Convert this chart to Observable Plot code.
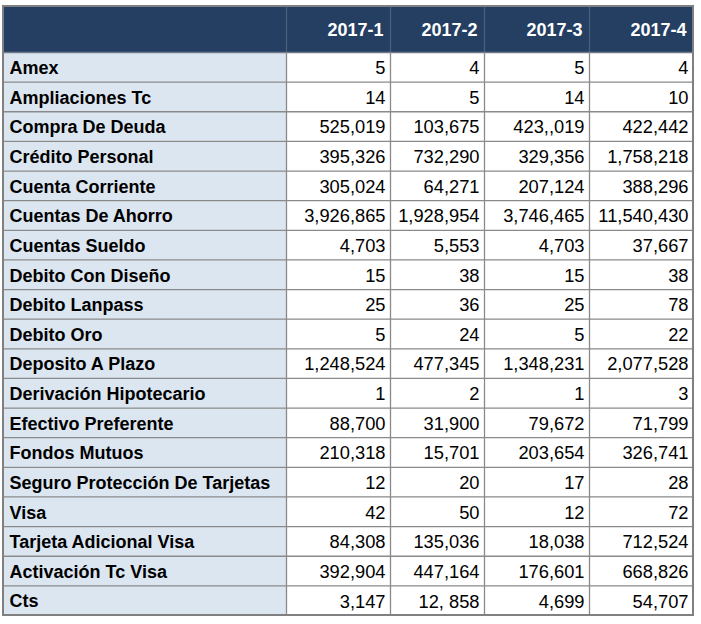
<!DOCTYPE html>
<html>
<head>
<meta charset="utf-8">
<script src="https://cdn.jsdelivr.net/npm/d3@7"></script>
<script src="https://cdn.jsdelivr.net/npm/@observablehq/plot@0.6"></script>
<style>
  body { margin: 0; background: #ffffff; }
  #chart svg { display: block; }
</style>
</head>
<body>
<div id="chart"></div>
<script>
// ---- Data ----
const columns = ["2017-1", "2017-2", "2017-3", "2017-4"];
const categories = [
  "Amex", "Ampliaciones Tc", "Compra De Deuda", "Crédito Personal", "Cuenta Corriente",
  "Cuentas De Ahorro", "Cuentas Sueldo", "Debito Con Diseño", "Debito Lanpass", "Debito Oro",
  "Deposito A Plazo", "Derivación Hipotecario", "Efectivo Preferente", "Fondos Mutuos",
  "Seguro Protección De Tarjetas", "Visa", "Tarjeta Adicional Visa", "Activación Tc Visa", "Cts"
];
const values_2017_1 = ["5", "14", "525,019", "395,326", "305,024", "3,926,865", "4,703", "15", "25", "5",
  "1,248,524", "1", "88,700", "210,318", "12", "42", "84,308", "392,904", "3,147"];
const values_2017_2 = ["4", "5", "103,675", "732,290", "64,271", "1,928,954", "5,553", "38", "36", "24",
  "477,345", "2", "31,900", "15,701", "20", "50", "135,036", "447,164", "12, 858"];
const values_2017_3 = ["5", "14", "423,,019", "329,356", "207,124", "3,746,465", "4,703", "15", "25", "5",
  "1,348,231", "1", "79,672", "203,654", "17", "12", "18,038", "176,601", "4,699"];
const values_2017_4 = ["4", "10", "422,442", "1,758,218", "388,296", "11,540,430", "37,667", "38", "78", "22",
  "2,077,528", "3", "71,799", "326,741", "28", "72", "712,524", "668,826", "54,707"];
const series = [values_2017_1, values_2017_2, values_2017_3, values_2017_4];

// ---- Layout (styling) ----
const colWidths = [283, 104, 94, 105, 104];   // label column + 4 value columns
const rowPx = 29.63, headerPx = 46;
const headerH = headerPx / rowPx;              // header height in row units
const edges = [0];
colWidths.forEach(w => edges.push(edges[edges.length - 1] + w));
const total = edges[edges.length - 1];
const nRows = categories.length;

const rows = categories.map((label, i) => ({label, i}));
const cells = [];
series.forEach((vals, j) => vals.forEach((text, i) => cells.push({i, col: j + 1, text})));
const headers = columns.map((name, j) => ({name, col: j + 1}));

const navy = "#243f62";
const labelBg = "#dce6f1";
const gridColor = "#8a8a8a";
const font = "Liberation Sans";
const fsLabel = 18;
const fsValue = 18.3;

const chart = Plot.plot({
  width: 701,
  height: 624,
  marginLeft: 3,
  marginRight: 8,
  marginTop: 6,
  marginBottom: 9,
  style: {fontFamily: "Liberation Sans, Arial, sans-serif", background: "#ffffff"},
  x: {type: "linear", domain: [0, total], axis: null},
  y: {type: "linear", domain: [nRows, -headerH], axis: null},
  marks: [
    Plot.rect([0], {x1: 0, x2: total, y1: -headerH, y2: 0, fill: navy}),
    Plot.rect(rows, {x1: 0, x2: colWidths[0], y1: d => d.i, y2: d => d.i + 1, fill: labelBg}),
    Plot.ruleY(d3.range(1, nRows), {x1: 0, x2: total, stroke: gridColor, strokeWidth: 1.3}),
    Plot.ruleY([0], {x1: 0, x2: total, stroke: "#6f7a88", strokeWidth: 1.3}),
    Plot.ruleX(edges.slice(1, -1), {y1: 0, y2: nRows, stroke: gridColor, strokeWidth: 1.3}),
    Plot.ruleX(edges.slice(1, -1), {y1: -headerH, y2: 0, stroke: "#4a5f7a", strokeWidth: 1.3}),
    Plot.rect([0], {x1: 0, x2: total, y1: -headerH, y2: nRows, fill: "none", stroke: "#808080", strokeWidth: 2}),
    Plot.text(headers, {
      x: d => edges[d.col + 1], y: -headerH / 2, text: "name",
      textAnchor: "end", dx: -7, dy: 1, fill: "#ffffff", fontWeight: "bold",
      fontSize: fsLabel, fontFamily: font
    }),
    Plot.text(rows, {
      x: 0, y: d => d.i + 0.5, text: "label",
      textAnchor: "start", dx: 6, dy: 1, fill: "#000000", fontWeight: "bold",
      fontSize: fsLabel, fontFamily: font
    }),
    Plot.text(cells, {
      x: d => edges[d.col + 1], y: d => d.i + 0.5, text: "text",
      textAnchor: "end", dx: -5, dy: 1, fill: "#000000",
      fontSize: fsValue, fontFamily: font
    })
  ]
});

document.getElementById("chart").append(chart);
</script>
</body>
</html>
